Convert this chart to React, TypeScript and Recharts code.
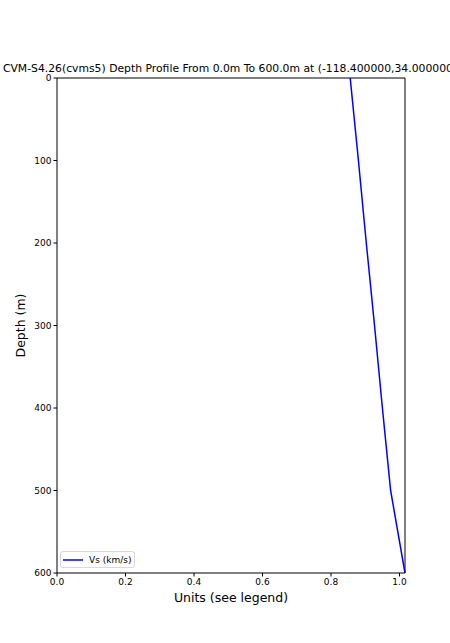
import { LineChart, Line, XAxis, YAxis, ReferenceLine } from "recharts";

const depths = [0, 100, 200, 300, 400, 500, 600];
const vsValues = [0.856, 0.88, 0.903, 0.927, 0.95, 0.974, 1.016];
const xTicks = [0, 0.2, 0.4, 0.6, 0.8, 1.0];
const yTicks = [0, 100, 200, 300, 400, 500, 600];

const chartTitle =
  "CVM-S4.26(cvms5) Depth Profile From 0.0m To 600.0m at (-118.400000,34.000000)";
const legendLabel = "Vs (km/s)";

const data = depths.map((d, i) => ({ depth: d, vs: vsValues[i] }));

const font = "DejaVu Sans, sans-serif";

// legend box sits over the plot's bottom-left corner, like matplotlib's "best"
const LegendBox = () => (
  <div
    style={{
      position: "absolute",
      left: 60,
      top: 551,
      width: 75,
      height: 17,
      border: "1px solid #d9d9d9",
      borderRadius: 3,
      background: "rgba(255,255,255,0.8)",
      display: "flex",
      alignItems: "center",
      fontFamily: font,
      fontSize: 9,
      color: "#000",
      boxSizing: "border-box",
      whiteSpace: "nowrap",
    }}
  >
    <svg width={28} height={10} style={{ flex: "none" }}>
      <line x1={2} y1={5} x2={22} y2={5} stroke="#0000ff" strokeWidth={1.5} />
    </svg>
    <span>{legendLabel}</span>
  </div>
);

export default function App() {
  return (
    <div style={{ position: "absolute", left: 0, top: 0, width: 450, height: 643 }}>
      <LineChart
        width={450}
        height={643}
        data={data}
        layout="vertical"
        margin={{ top: 78, right: 45, left: 0, bottom: 0 }}
      >
        <text x={230} y={72} textAnchor="middle" fontFamily={font} fontSize={10.8} fill="#000">
          {chartTitle}
        </text>
        <XAxis
          type="number"
          dataKey="vs"
          domain={[0, "dataMax"]}
          ticks={xTicks}
          tickFormatter={(v: number) => v.toFixed(1)}
          height={70}
          stroke="#000"
          tickSize={3.5}
          tick={{ fill: "#000", fontSize: 9, fontFamily: font }}
          label={{
            value: "Units (see legend)",
            position: "insideTop",
            offset: 20,
            fill: "#000",
            fontSize: 12.5,
            fontFamily: font,
          }}
        />
        <YAxis
          type="number"
          dataKey="depth"
          domain={[0, 600]}
          ticks={yTicks}
          width={57}
          stroke="#000"
          tickSize={3.5}
          tick={{ fill: "#000", fontSize: 9, fontFamily: font }}
          label={{
            value: "Depth (m)",
            angle: -90,
            position: "insideLeft",
            offset: 21,
            fill: "#000",
            fontSize: 12.5,
            fontFamily: font,
            style: { textAnchor: "middle" },
          }}
        />
        <ReferenceLine y={0} stroke="#000" />
        <ReferenceLine x={1.016} stroke="#000" />
        <Line
          dataKey="vs"
          stroke="#0000ff"
          strokeWidth={1.5}
          dot={false}
          isAnimationActive={false}
        />
      </LineChart>
      <LegendBox />
    </div>
  );
}
